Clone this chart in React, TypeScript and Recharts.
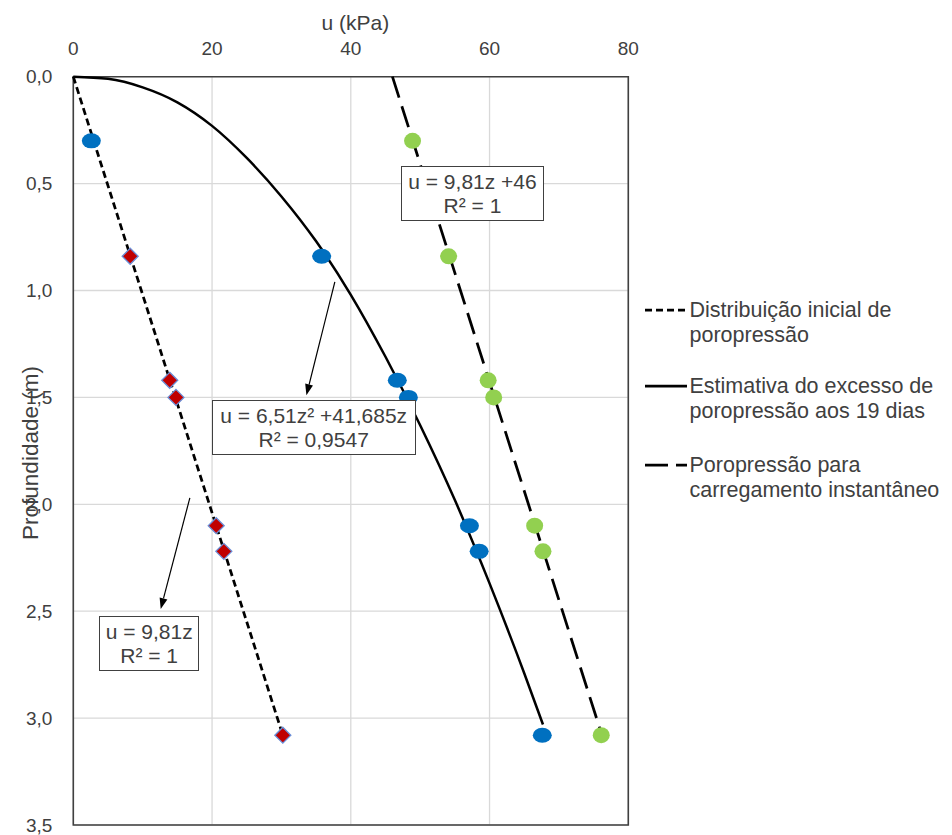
import React from 'react';
import {
  ComposedChart,
  Scatter,
  Line,
  XAxis,
  YAxis,
  CartesianGrid,
  ReferenceArea,
  ReferenceLine,
  Legend,
} from 'recharts';

const FONT = '"Liberation Sans", Arial, sans-serif';
const TEXT = '#404040';

// profundidades dos piezômetros (m)
const depths = [0.3, 0.84, 1.42, 1.5, 2.1, 2.22, 3.08];
// excesso de poropressão medido aos 19 dias (kPa)
const uExcess19d = [2.6, 35.8, 46.7, 48.3, 57.1, 58.5, 67.6];
// poropressão para carregamento instantâneo (kPa)
const uInstant = [48.9, 54.1, 59.8, 60.6, 66.5, 67.7, 76.1];
// distribuição inicial
const initialDepths = [0.84, 1.42, 1.5, 2.1, 2.22, 3.08];
const uInitial = [8.2, 13.9, 14.8, 20.6, 21.7, 30.2];

// linhas de tendência
const initialTrendU = [0, 30.2];
const initialTrendZ = [0, 3.08];
const instantTrendU = [46, 76.2];
const instantTrendZ = [0, 3.08];
const excessTrendU = [0, 5, 10, 15, 20, 25, 30, 35, 40, 45, 50, 55, 60, 65, 67.7];
const excessTrendZ = [0, 0.01, 0.05, 0.12, 0.23, 0.38, 0.56, 0.77, 1.02, 1.31, 1.63, 1.98, 2.37, 2.79, 3.03];

const xTicks = [0, 20, 40, 60, 80];
const yTicks = [0, 0.5, 1, 1.5, 2, 2.5, 3, 3.5];

const legendLabels = [
  ['Distribuição inicial de', 'poropressão'],
  ['Estimativa do excesso de', 'poropressão aos 19 dias'],
  ['Poropressão para', 'carregamento instantâneo'],
];
const legendDash = ['7 4', undefined, '23 8'];

const toPoints = (us: number[], zs: number[]) => us.map((u, i) => ({ u, z: zs[i] }));

const BlueDot = (p: any) => <ellipse cx={p.cx} cy={p.cy} rx={9.5} ry={7.5} fill="#0070C0" />;
const GreenDot = (p: any) => <ellipse cx={p.cx} cy={p.cy} rx={8.5} ry={8} fill="#92D050" />;
const RedDiamond = (p: any) => {
  const { cx, cy } = p;
  const r = 8;
  return (
    <path
      d={`M${cx},${cy - r}L${cx + r},${cy}L${cx},${cy + r}L${cx - r},${cy}Z`}
      fill="#C00000"
      stroke="#6A8FD8"
      strokeWidth={1.3}
    />
  );
};

const Arrow = (p: any) => {
  const { x1, y1, x2, y2 } = p;
  const a = Math.atan2(y2 - y1, x2 - x1);
  const len = 11;
  const w = 4;
  const bx = x2 - len * Math.cos(a);
  const by = y2 - len * Math.sin(a);
  const px = -Math.sin(a) * w;
  const py = Math.cos(a) * w;
  return (
    <g>
      <line x1={x1} y1={y1} x2={bx} y2={by} stroke="#000" strokeWidth={1.2} />
      <path d={`M${x2},${y2}L${bx + px},${by + py}L${bx - px},${by - py}Z`} fill="#000" />
    </g>
  );
};

const renderLegend = () => (
  <div style={{ position: 'relative', fontFamily: FONT, fontSize: 21.5, lineHeight: '24.5px', color: TEXT }}>
    {legendLabels.map((lines, i) => (
      <div key={i} style={{ position: 'absolute', left: 0, top: [0, 76, 155][i], width: 300 }}>
        <svg width={44} height={24} style={{ position: 'absolute', left: 0, top: 0 }}>
          <line x1={0} y1={12} x2={42} y2={12} stroke="#000" strokeWidth={2.75} strokeDasharray={legendDash[i]} />
        </svg>
        <div style={{ marginLeft: 44.5, whiteSpace: 'nowrap' }}>
          {lines.map((t, j) => (
            <div key={j}>{t}</div>
          ))}
        </div>
      </div>
    ))}
  </div>
);

const boxStyle: React.CSSProperties = {
  position: 'absolute',
  boxSizing: 'border-box',
  background: '#fff',
  border: '1.4px solid #404040',
  fontFamily: FONT,
  fontSize: 21,
  lineHeight: '24px',
  color: TEXT,
  textAlign: 'center',
  whiteSpace: 'nowrap',
  paddingTop: 3,
};

export default function App() {
  const fmt = (v: number) => v.toFixed(1).replace('.', ',');
  return (
    <div style={{ position: 'relative', width: 944, height: 827, background: '#fff' }}>
      <ComposedChart width={944} height={827} margin={{ top: 38.7, right: 323.7, bottom: 10, left: 10.3 }}>
        <CartesianGrid stroke="#d9d9d9" strokeWidth={1.3} />
        <XAxis
          type="number"
          dataKey="u"
          orientation="top"
          domain={[0, 80]}
          ticks={xTicks}
          interval={0}
          height={30}
          axisLine={false}
          tickLine={false}
          tickMargin={16}
          tick={{ fill: TEXT, fontSize: 19, fontFamily: FONT }}
        />
        <YAxis
          type="number"
          dataKey="z"
          domain={[0, 3.5]}
          reversed
          ticks={yTicks}
          interval={0}
          width={55}
          axisLine={false}
          tickLine={false}
          tickMargin={15}
          tickFormatter={fmt}
          tick={{ fill: TEXT, fontSize: 19, fontFamily: FONT }}
        />
        <ReferenceArea x1={0} x2={80} y1={0} y2={3.5} fill="none" stroke="#404040" strokeWidth={1.6} ifOverflow="visible" />
        <Scatter data={toPoints(uExcess19d, depths)} shape={BlueDot} isAnimationActive={false} />
        <Scatter data={toPoints(uInstant, depths)} shape={GreenDot} isAnimationActive={false} />
        <Scatter data={toPoints(uInitial, initialDepths)} shape={RedDiamond} isAnimationActive={false} />
        <Line
          data={toPoints(initialTrendU, initialTrendZ)}
          dataKey="z"
          type="linear"
          stroke="#000"
          strokeWidth={2.75}
          strokeDasharray="7 4"
          dot={false}
          activeDot={false}
          isAnimationActive={false}
        />
        <Line
          data={toPoints(excessTrendU, excessTrendZ)}
          dataKey="z"
          type="monotone"
          stroke="#000"
          strokeWidth={2.5}
          dot={false}
          activeDot={false}
          isAnimationActive={false}
        />
        <Line
          data={toPoints(instantTrendU, instantTrendZ)}
          dataKey="z"
          type="linear"
          stroke="#000"
          strokeWidth={2.75}
          strokeDasharray="22 9"
          dot={false}
          activeDot={false}
          isAnimationActive={false}
        />
        <ReferenceLine segment={[{ x: 37.7, y: 0.96 }, { x: 33.6, y: 1.49 }]} shape={Arrow} ifOverflow="visible" />
        <ReferenceLine segment={[{ x: 16.8, y: 1.97 }, { x: 12.6, y: 2.49 }]} shape={Arrow} ifOverflow="visible" />
        <Legend
          layout="horizontal"
          verticalAlign="middle"
          align="center"
          content={renderLegend}
          wrapperStyle={{ position: 'absolute', left: 637, top: 290, width: 300, height: 0 }}
        />
      </ComposedChart>

      <div
        style={{
          position: 'absolute',
          left: 347.3,
          top: 14.5,
          transform: 'translate(-50%, -50%)',
          fontFamily: FONT,
          fontSize: 21,
          color: TEXT,
          whiteSpace: 'nowrap',
        }}
      >
        u (kPa)
      </div>
      <div
        style={{
          position: 'absolute',
          left: 23,
          top: 445,
          transform: 'translate(-50%, -50%) rotate(-90deg)',
          fontFamily: FONT,
          fontSize: 22.5,
          color: TEXT,
          whiteSpace: 'nowrap',
        }}
      >
        Profundidade (m)
      </div>

      <div style={{ ...boxStyle, left: 392.7, top: 157.7, width: 143.6, height: 55 }}>
        <div>u = 9,81z +46</div>
        <div>R² = 1</div>
      </div>
      <div style={{ ...boxStyle, left: 203.7, top: 391.5, width: 204, height: 55.5 }}>
        <div>u = 6,51z² +41,685z</div>
        <div>R² = 0,9547</div>
      </div>
      <div style={{ ...boxStyle, left: 91, top: 608, width: 100.3, height: 55 }}>
        <div>u = 9,81z</div>
        <div>R² = 1</div>
      </div>
    </div>
  );
}
